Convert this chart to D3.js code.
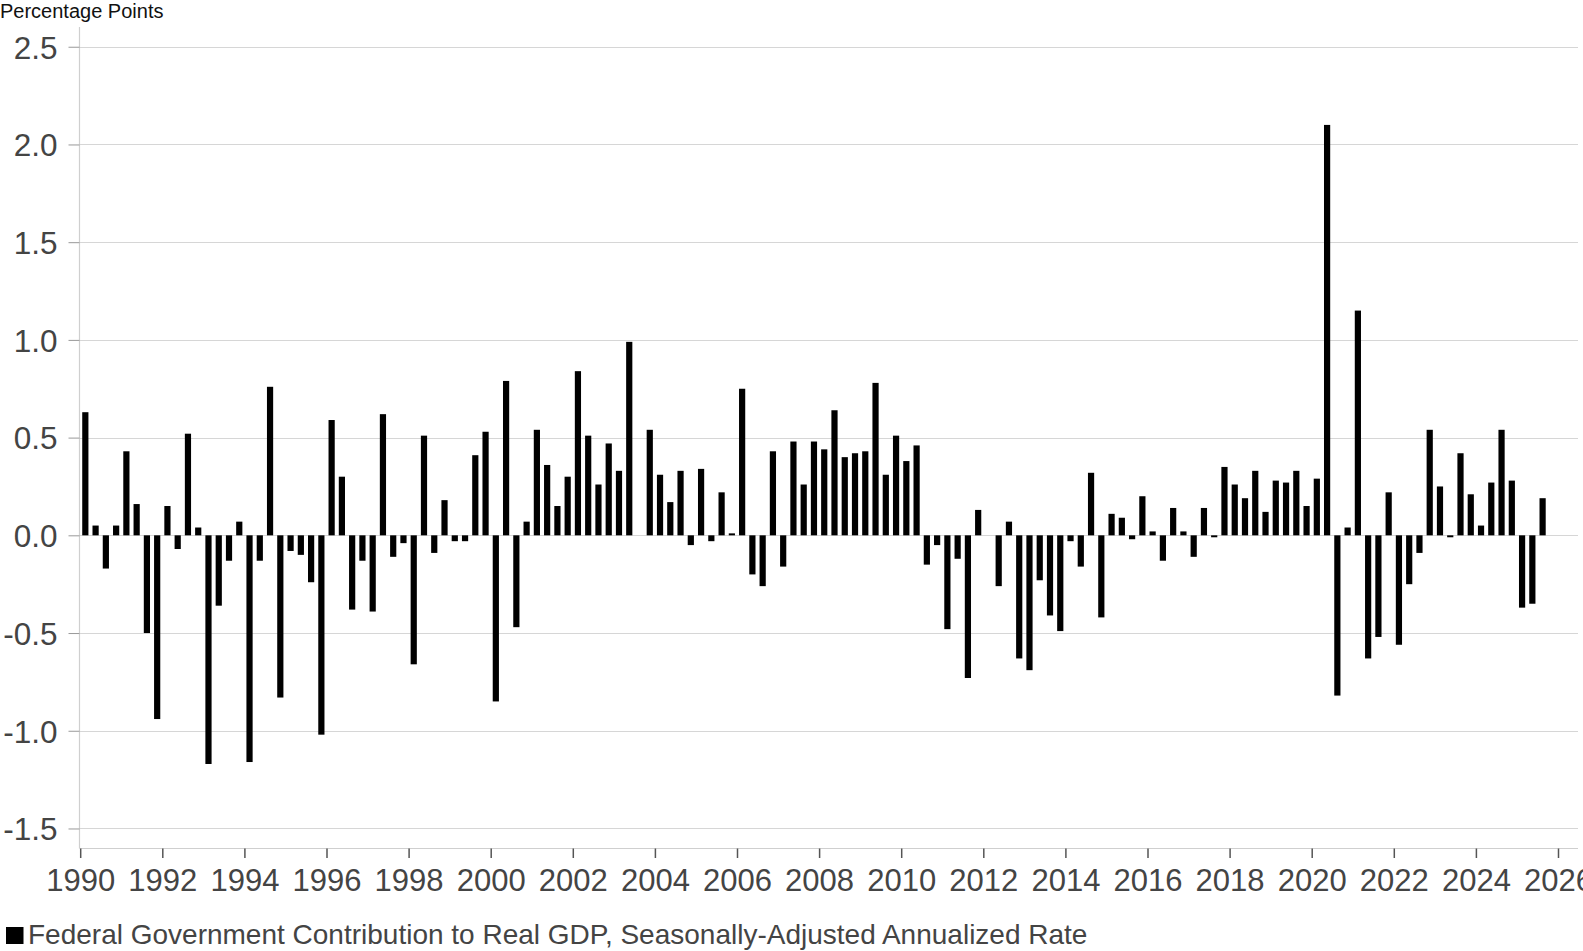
<!DOCTYPE html>
<html>
<head>
<meta charset="utf-8">
<script src="https://cdn.jsdelivr.net/npm/d3@7"></script>
<style>
  html, body { margin: 0; padding: 0; background: #fff; }
  svg { display: block; font-family: "Liberation Sans", Arial, sans-serif; }
</style>
</head>
<body>
<svg id="chart" width="1583" height="951"></svg>
<script>
// Quarterly data, 1990 Q1 .. 2025 Q3
const startYear = 1990;
const values = [
  0.63, 0.05, -0.17, 0.05,      // 1990
  0.43, 0.16, -0.50, -0.94,     // 1991
  0.15, -0.07, 0.52, 0.04,      // 1992
  -1.17, -0.36, -0.13, 0.07,    // 1993
  -1.16, -0.13, 0.76, -0.83,    // 1994
  -0.08, -0.10, -0.24, -1.02,   // 1995
  0.59, 0.30, -0.38, -0.13,     // 1996
  -0.39, 0.62, -0.11, -0.04,    // 1997
  -0.66, 0.51, -0.09, 0.18,     // 1998
  -0.03, -0.03, 0.41, 0.53,     // 1999
  -0.85, 0.79, -0.47, 0.07,     // 2000
  0.54, 0.36, 0.15, 0.30,       // 2001
  0.84, 0.51, 0.26, 0.47,       // 2002
  0.33, 0.99, 0.00, 0.54,       // 2003
  0.31, 0.17, 0.33, -0.05,      // 2004
  0.34, -0.03, 0.22, 0.01,      // 2005
  0.75, -0.20, -0.26, 0.43,     // 2006
  -0.16, 0.48, 0.26, 0.48,      // 2007
  0.44, 0.64, 0.40, 0.42,       // 2008
  0.43, 0.78, 0.31, 0.51,       // 2009
  0.38, 0.46, -0.15, -0.05,     // 2010
  -0.48, -0.12, -0.73, 0.13,    // 2011
  0.00, -0.26, 0.07, -0.63,     // 2012
  -0.69, -0.23, -0.41, -0.49,   // 2013
  -0.03, -0.16, 0.32, -0.42,    // 2014
  0.11, 0.09, -0.02, 0.20,      // 2015
  0.02, -0.13, 0.14, 0.02,      // 2016
  -0.11, 0.14, -0.01, 0.35,     // 2017
  0.26, 0.19, 0.33, 0.12,       // 2018
  0.28, 0.27, 0.33, 0.15,       // 2019
  0.29, 2.10, -0.82, 0.04,      // 2020
  1.15, -0.63, -0.52, 0.22,     // 2021
  -0.56, -0.25, -0.09, 0.54,    // 2022
  0.25, -0.01, 0.42, 0.21,      // 2023
  0.05, 0.27, 0.54, 0.28,       // 2024
  -0.37, -0.35, 0.19            // 2025
];
const yTickValues = [-1.5, -1.0, -0.5, 0.0, 0.5, 1.0, 1.5, 2.0, 2.5];
const xTickYears = [1990, 1992, 1994, 1996, 1998, 2000, 2002, 2004, 2006, 2008, 2010,
                    2012, 2014, 2016, 2018, 2020, 2022, 2024, 2026];
const yAxisTitle = "Percentage Points";
const seriesName = "Federal Government Contribution to Real GDP, Seasonally-Adjusted Annualized Rate";

const data = values.map((v, i) => ({ t: startYear + i / 4 + 0.125, v }));

const svg = d3.select("#chart");
const plotLeft = 79.5, plotRight = 1578, plotTop = 27, plotBottom = 848.5;

const x = d3.scaleLinear().domain([1990, 2026.5]).range([80.2, 80.2 + 36.5 * 41.05]);
const y = d3.scaleLinear().domain([-1.605, 2.601]).range([849, plotTop]);

// gridlines
svg.append("g")
  .selectAll("line")
  .data(yTickValues)
  .join("line")
  .attr("x1", plotLeft).attr("x2", plotRight)
  .attr("y1", d => Math.round(y(d)) + 0.5).attr("y2", d => Math.round(y(d)) + 0.5)
  .attr("stroke", "#d6d6d6").attr("stroke-width", 1.2);

// y axis
const yAxis = svg.append("g")
  .attr("transform", `translate(${plotLeft},0)`)
  .call(d3.axisLeft(y).tickValues(yTickValues).tickFormat(d => d.toFixed(1)).tickSize(11).tickPadding(11));
yAxis.select(".domain").attr("stroke", "#cfcfcf").attr("stroke-width", 1.2).attr("d", `M0,${plotTop}V${plotBottom}`);
yAxis.selectAll(".tick line").attr("stroke", "#999");
yAxis.selectAll(".tick text").attr("fill", "#444").style("font-size", "31.5px").attr("dy", "0.36em");

// x axis
const xAxis = svg.append("g")
  .attr("transform", `translate(0,${plotBottom})`)
  .call(d3.axisBottom(x).tickValues(xTickYears).tickFormat(d => String(d)).tickSize(9.5).tickPadding(11));
xAxis.select(".domain").attr("stroke", "#cfcfcf").attr("stroke-width", 1.2).attr("d", `M${plotLeft},0H${plotRight}`);
xAxis.selectAll(".tick line").attr("stroke", "#555").attr("stroke-width", 1.5);
xAxis.selectAll(".tick text").attr("fill", "#444").style("font-size", "31px");

// bars
const barW = 6.2;
svg.append("g")
  .selectAll("rect")
  .data(data)
  .join("rect")
  .attr("x", d => x(d.t) - barW / 2)
  .attr("width", barW)
  .attr("y", d => y(Math.max(0, d.v)))
  .attr("height", d => d.v === 0 ? 0 : Math.max(0.8, Math.abs(y(d.v) - y(0))))
  .attr("fill", "#000");

// y-axis title
svg.append("text")
  .attr("x", 0).attr("y", 17.5)
  .attr("fill", "#111")
  .style("font-size", "20px")
  .text(yAxisTitle);

// legend
svg.append("rect")
  .attr("x", 6).attr("y", 927).attr("width", 17.5).attr("height", 17)
  .attr("fill", "#000");
svg.append("text")
  .attr("x", 28).attr("y", 944)
  .attr("fill", "#444")
  .style("font-size", "28px")
  .text(seriesName);
</script>
</body>
</html>
